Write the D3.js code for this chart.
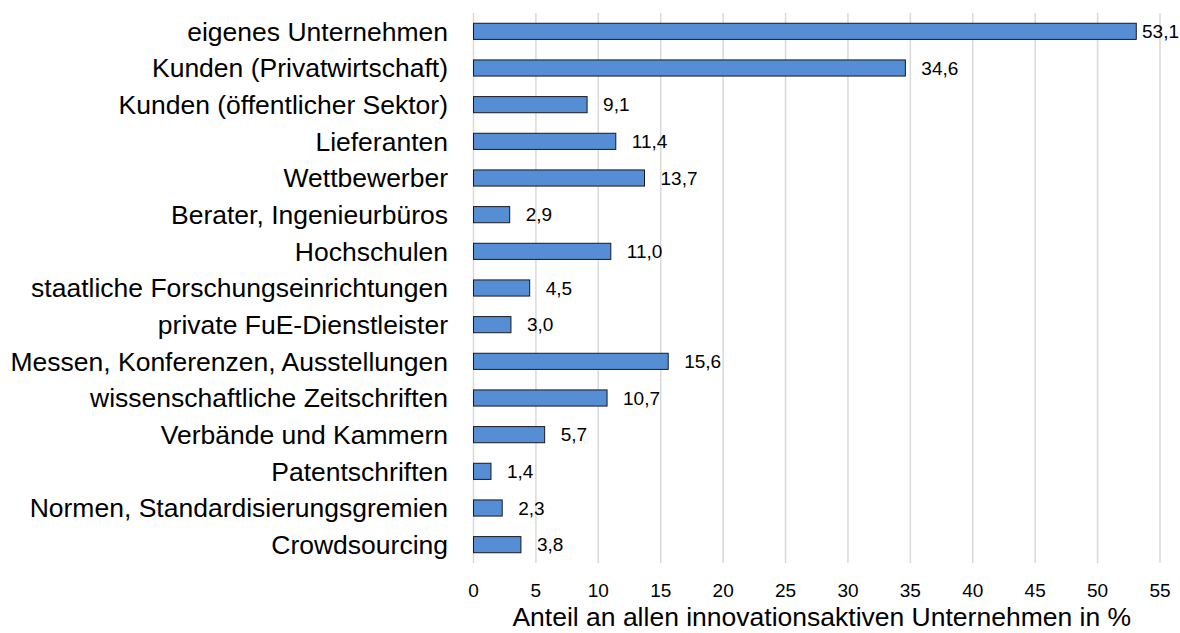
<!DOCTYPE html>
<html>
<head>
<meta charset="utf-8">
<script src="https://cdn.jsdelivr.net/npm/d3@7"></script>
<style>
  body { margin: 0; background: #fff; }
  svg text { font-family: "Liberation Sans", Arial, sans-serif; fill: #000; }
</style>
</head>
<body>
<div id="chart"></div>
<script>
// Daten: Informationsquellen fuer Innovationen
var categories = [
  "eigenes Unternehmen",
  "Kunden (Privatwirtschaft)",
  "Kunden (öffentlicher Sektor)",
  "Lieferanten",
  "Wettbewerber",
  "Berater, Ingenieurbüros",
  "Hochschulen",
  "staatliche Forschungseinrichtungen",
  "private FuE-Dienstleister",
  "Messen, Konferenzen, Ausstellungen",
  "wissenschaftliche Zeitschriften",
  "Verbände und Kammern",
  "Patentschriften",
  "Normen, Standardisierungsgremien",
  "Crowdsourcing"
];
var values = [53.1, 34.6, 9.1, 11.4, 13.7, 2.9, 11.0, 4.5, 3.0, 15.6, 10.7, 5.7, 1.4, 2.3, 3.8];
var xTicks = [0, 5, 10, 15, 20, 25, 30, 35, 40, 45, 50, 55];
var xTitle = "Anteil an allen innovationsaktiven Unternehmen in %";

var width = 1180, height = 633;
var margin = {top: 13, right: 20, bottom: 70, left: 473.5};

var svg = d3.select('#chart').append('svg')
  .attr('width', width)
  .attr('height', height);

var x = d3.scaleLinear().domain([0, 55]).range([margin.left, 1160]);
var y = d3.scaleBand().domain(categories).range([margin.top, height - margin.bottom])
  .paddingInner(0.56).paddingOuter(0.28);

var fmt = function(v){ return d3.format('.1f')(v).replace('.', ','); };

// Gitterlinien
svg.append('g').selectAll('line').data(xTicks).enter().append('line')
  .attr('x1', function(d){ return x(d); })
  .attr('x2', function(d){ return x(d); })
  .attr('y1', margin.top)
  .attr('y2', height - margin.bottom)
  .style('stroke', '#d9d9d9')
  .style('stroke-width', 1.5);

// Achsenbeschriftung unten
svg.append('g').selectAll('text').data(xTicks).enter().append('text')
  .attr('x', function(d){ return x(d); })
  .attr('y', 597)
  .attr('text-anchor', 'middle')
  .style('font-size', '19px')
  .text(function(d){ return d; });

svg.append('text')
  .attr('x', (x(0) + x(55)) / 2 + 5)
  .attr('y', 626)
  .attr('text-anchor', 'middle')
  .style('font-size', '26.5px')
  .text(xTitle);

// Kategorien
svg.append('g').selectAll('text').data(categories).enter().append('text')
  .attr('x', 448)
  .attr('y', function(d){ return y(d) + y.bandwidth() / 2; })
  .attr('dy', '0.35em')
  .attr('text-anchor', 'end')
  .style('font-size', '26.5px')
  .text(function(d){ return d; });

// Balken
svg.append('g').selectAll('rect').data(values).enter().append('rect')
  .attr('x', x(0))
  .attr('y', function(d, i){ return y(categories[i]); })
  .attr('width', function(d){ return x(d) - x(0); })
  .attr('height', y.bandwidth())
  .style('fill', '#558ed5')
  .style('stroke', '#1a1a1a')
  .style('stroke-width', 1);

// Werte
svg.append('g').selectAll('text').data(values).enter().append('text')
  .attr('y', function(d, i){ return y(categories[i]) + y.bandwidth() / 2; })
  .attr('dy', '0.35em')
  .style('font-size', '19px')
  .text(fmt)
  .attr('x', function(d){
    var w = this.getComputedTextLength();
    return Math.min(x(d) + 16, width - w - 1);
  });
</script>
</body>
</html>
